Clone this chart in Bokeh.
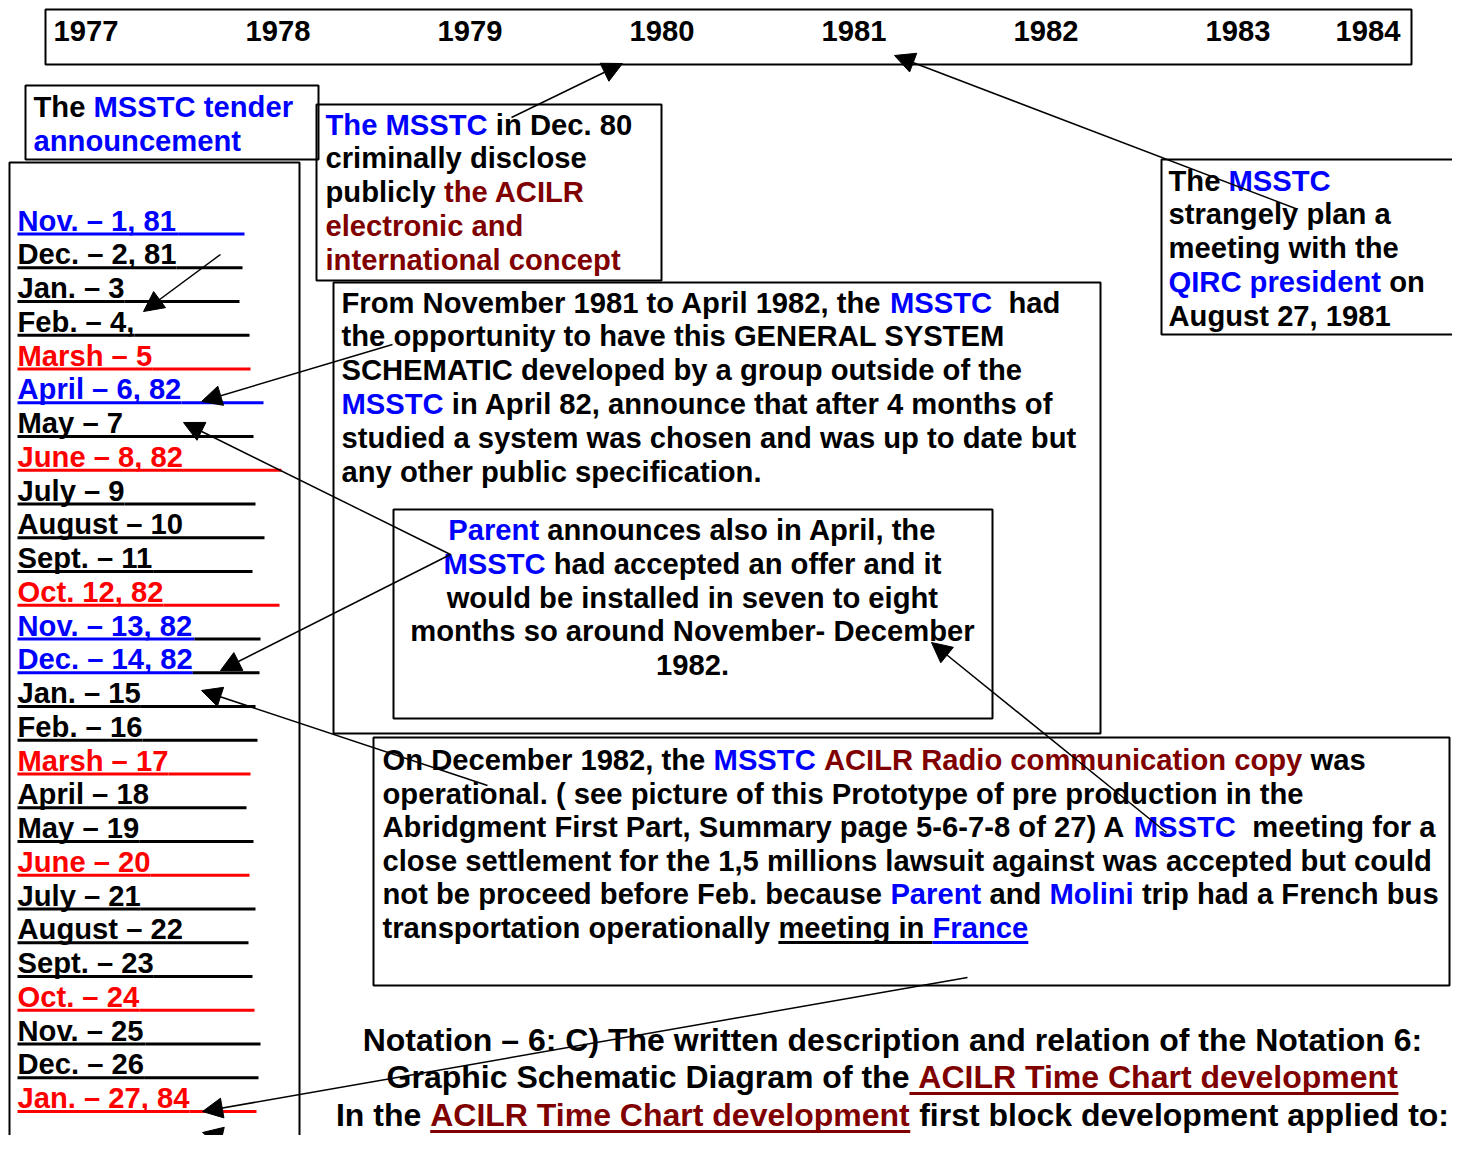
from bokeh.plotting import figure
from bokeh.models import ColumnDataSource, Range1d, Arrow, NormalHead
from bokeh.core.properties import value
from bokeh.embed import file_html
from bokeh.resources import INLINE

BLUE = "#0000ff"
RED = "#ff0000"
DARKRED = "#800000"
BLACK = "#000000"

# ---------------- content ----------------
YEARS = ["1977", "1978", "1979", "1980", "1981", "1982", "1983", "1984"]

MONTHS = ["Nov. – 1, 81", "Dec. – 2, 81", "Jan. – 3", "Feb. – 4,", "Marsh – 5",
          "April – 6, 82", "May – 7", "June – 8, 82", "July – 9", "August – 10",
          "Sept. – 11", "Oct. 12, 82", "Nov. – 13, 82", "Dec. – 14, 82", "Jan. – 15",
          "Feb. – 16", "Marsh – 17", "April – 18", "May – 19", "June – 20",
          "July – 21", "August – 22", "Sept. – 23", "Oct. – 24", "Nov. – 25",
          "Dec. – 26", "Jan. – 27, 84"]
MONTH_COLORS = [BLUE, BLACK, BLACK, BLACK, RED, BLUE, BLACK, RED, BLACK, BLACK,
                BLACK, RED, BLUE, BLUE, BLACK, BLACK, RED, BLACK, BLACK, RED,
                BLACK, BLACK, BLACK, RED, BLACK, BLACK, RED]
MONTH_TAIL_COLORS = [BLUE, BLACK, BLACK, BLACK, RED, BLUE, BLACK, RED, BLACK, BLACK,
                     BLACK, RED, BLACK, BLACK, BLACK, BLACK, RED, BLACK, BLACK, RED,
                     BLACK, BLACK, BLACK, RED, BLACK, BLACK, RED]

TENDER = [[("The ", BLACK), ("MSSTC tender", BLUE)],
          [("announcement", BLUE)]]

DEC80 = [[("The MSSTC", BLUE), (" in Dec. 80", BLACK)],
         [("criminally disclose", BLACK)],
         [("publicly ", BLACK), ("the ACILR", DARKRED)],
         [("electronic and", DARKRED)],
         [("international concept", DARKRED)]]

QIRC = [[("The ", BLACK), ("MSSTC", BLUE)],
        [("strangely plan a", BLACK)],
        [("meeting with the", BLACK)],
        [("QIRC president", BLUE), (" on", BLACK)],
        [("August 27, 1981", BLACK)]]

FROM = [[("From November 1981 to April 1982, the ", BLACK), ("MSSTC", BLUE), ("  had", BLACK)],
        [("the opportunity to have this GENERAL SYSTEM", BLACK)],
        [("SCHEMATIC developed by a group outside of the", BLACK)],
        [("MSSTC", BLUE), (" in April 82, announce that after 4 months of", BLACK)],
        [("studied a system was chosen and was up to date but", BLACK)],
        [("any other public specification.", BLACK)]]

PARENT = [[("Parent", BLUE), (" announces also in April, the", BLACK)],
          [("MSSTC", BLUE), (" had accepted an offer and it", BLACK)],
          [("would be installed in seven to eight", BLACK)],
          [("months so around November- December", BLACK)],
          [("1982.", BLACK)]]

DEC82 = [[("On December 1982, the ", BLACK), ("MSSTC", BLUE), (" ", BLACK),
          ("ACILR Radio communication copy", DARKRED), (" was", BLACK)],
         [("operational. ( see picture of this Prototype of pre production in the", BLACK)],
         [("Abridgment First Part, Summary page 5-6-7-8 of 27) A ", BLACK), ("MSSTC", BLUE),
          ("  meeting for a", BLACK)],
         [("close settlement for the 1,5 millions lawsuit against was accepted but could", BLACK)],
         [("not be proceed before Feb. because ", BLACK), ("Parent", BLUE), (" and ", BLACK),
          ("Molini", BLUE), (" trip had a French bus", BLACK)],
         [("transportation operationally ", BLACK), ("meeting in ", BLACK, True),
          ("France", BLUE, True)]]

NOTATION = [[("Notation – 6: C) The written description and relation of the Notation 6:", BLACK)],
            [("Graphic Schematic Diagram of the", BLACK),
             (" ACILR Time Chart development", DARKRED, True)],
            [("In the ", BLACK), ("ACILR Time Chart development", DARKRED, True),
             (" first block development applied to:", BLACK)]]

# ---------------- layout (page pixel coordinates) ----------------
YEAR_X = [53, 245, 437, 629, 821, 1013, 1205, 1335]
YEAR_BASE = 40.5
LIST_X, LIST_BASE, LIST_PITCH = 17, 230.0, 33.75
LIST_TAIL_END = [244, 242, 239, 249, 250, 263, 253, 281, 255, 264, 252, 279, 260, 259,
                 255, 257, 250, 246, 253, 249, 255, 248, 252, 254, 260, 258, 256]

BOX_L = [45, 25, 9, 316, 333, 393, 373, 1161]
BOX_R = [1411, 318, 299, 661, 1100, 992, 1449, 1463]
BOX_T = [9, 85, 162, 104, 282, 509, 737, 159]
BOX_B = [64, 159, 1151, 280, 733, 718, 985, 334]

ARROW_XS = [511, 1295, 220, 392, 450, 450, 487, 1166, 967, 310]
ARROW_YS = [117, 208, 254, 344, 554, 554, 785, 832, 977, 1157]
ARROW_XE = [622, 894, 143, 201, 183, 220, 201, 931, 202, 202]
ARROW_YE = [63, 55, 311, 401, 422, 670, 690, 642, 1111, 1132]

BODY = 29.2
NOTE = 32.0
# vertical offset between the anchor Bokeh uses and the alphabetic baseline
SHIFT = {BODY: 10.0, NOTE: 12.0}

# Arial / Liberation Sans Bold advance widths (per 1000 em)
AW = {' ': 278, '!': 333, '(': 333, ')': 333, ',': 278, '-': 333, '.': 278, ':': 333,
      ';': 333, '?': 611, '–': 556, '_': 556, "'": 238,
      'A': 722, 'B': 722, 'C': 722, 'D': 722, 'E': 667, 'F': 611, 'G': 778, 'H': 722,
      'I': 278, 'J': 556, 'K': 722, 'L': 611, 'M': 833, 'N': 722, 'O': 778, 'P': 667,
      'Q': 778, 'R': 722, 'S': 667, 'T': 611, 'U': 722, 'V': 667, 'W': 944, 'X': 667,
      'Y': 667, 'Z': 611,
      'a': 556, 'b': 611, 'c': 556, 'd': 611, 'e': 556, 'f': 333, 'g': 611, 'h': 611,
      'i': 278, 'j': 278, 'k': 556, 'l': 278, 'm': 889, 'n': 611, 'o': 611, 'p': 611,
      'q': 611, 'r': 389, 's': 556, 't': 333, 'u': 611, 'v': 556, 'w': 778, 'x': 556,
      'y': 556, 'z': 500}
for d in "0123456789":
    AW[d] = 556


def tw(s, size):
    return sum(AW.get(ch, 556) for ch in s) * size / 1000.0


def new_store():
    return {"x": [], "y": [], "text": [], "color": []}


body = new_store()
note = new_store()
UL = {"x0": [], "x1": [], "y": [], "color": []}


def add_line(store, segs, x, y, size, center=None, ul_off=4.5):
    segs = [tuple(s) + (False,) if len(s) == 2 else tuple(s) for s in segs]
    widths = [tw(t, size) for t, c, u in segs]
    if center is not None:
        x = center - sum(widths) / 2.0
    for (t, c, u), w in zip(segs, widths):
        lead = len(t) - len(t.lstrip(" "))
        s = t.strip(" ")
        if s:
            store["x"].append(x + tw(" " * lead, size))
            store["y"].append(y - SHIFT[size])
            store["text"].append(s)
            store["color"].append(c)
        if u:
            UL["x0"].append(x)
            UL["x1"].append(x + w)
            UL["y"].append(y + ul_off)
            UL["color"].append(c)
        x += w
    return x


def add_block(store, lines, x, base, pitch, size, center=None):
    for i, segs in enumerate(lines):
        add_line(store, segs, x, base + i * pitch, size, center=center)


# timeline years
for yr, xx in zip(YEARS, YEAR_X):
    add_line(body, [(yr, BLACK)], xx, YEAR_BASE, BODY)

# month list with underlines
for i, (m, c, tc, te) in enumerate(zip(MONTHS, MONTH_COLORS, MONTH_TAIL_COLORS, LIST_TAIL_END)):
    yb = LIST_BASE + i * LIST_PITCH
    xe = add_line(body, [(m, c, True)], LIST_X, yb, BODY, ul_off=3.5)
    UL["x0"].append(xe)
    UL["x1"].append(te)
    UL["y"].append(yb + 3.5)
    UL["color"].append(tc)

add_block(body, TENDER, 33, 116.5, 34.0, BODY)
add_block(body, DEC80, 325, 134.0, 33.75, BODY)
add_block(body, QIRC, 1168, 190.0, 33.8, BODY)
add_block(body, FROM, 341, 312.0, 33.8, BODY)
add_block(body, PARENT, 0, 539.5, 33.8, BODY, center=692)
add_block(body, DEC82, 382, 769.5, 33.6, BODY)
add_line(note, NOTATION[0], 0, 1051, NOTE, center=892, ul_off=5)
add_line(note, NOTATION[1], 0, 1088, NOTE, center=892, ul_off=5)
add_line(note, NOTATION[2], 0, 1126, NOTE, center=892, ul_off=5)

# ---------------- figure ----------------
p = figure(width=1452, height=1135, x_range=Range1d(0, 1452), y_range=Range1d(1135, 0),
           x_axis_type=None, y_axis_type=None, toolbar_location=None,
           output_backend="svg", min_border=0, outline_line_color=None,
           background_fill_color="white", border_fill_color="white")
p.grid.visible = False

p.quad(left=BOX_L, right=BOX_R, top=BOX_T, bottom=BOX_B, fill_alpha=0,
       line_color="black", line_width=2)

p.segment(x0="x0", y0="y", x1="x1", y1="y", line_color="color", line_width=3,
          source=ColumnDataSource(UL))

for store, size in ((body, BODY), (note, NOTE)):
    p.text(x="x", y="y", text="text", text_color="color", source=ColumnDataSource(store),
           text_font=value("Liberation Sans"), text_font_style="bold",
           text_font_size=value(f"{size}px"), text_baseline="alphabetic",
           text_align="left")

arrow_src = ColumnDataSource(dict(xs=ARROW_XS, ys=ARROW_YS, xe=ARROW_XE, ye=ARROW_YE))
p.add_layout(Arrow(end=NormalHead(size=20, fill_color="black", line_color="black", line_width=1),
                   x_start="xs", y_start="ys", x_end="xe", y_end="ye",
                   line_color="black", line_width=1.5, source=arrow_src))

open("out.html", "w").write(file_html(p, INLINE))
